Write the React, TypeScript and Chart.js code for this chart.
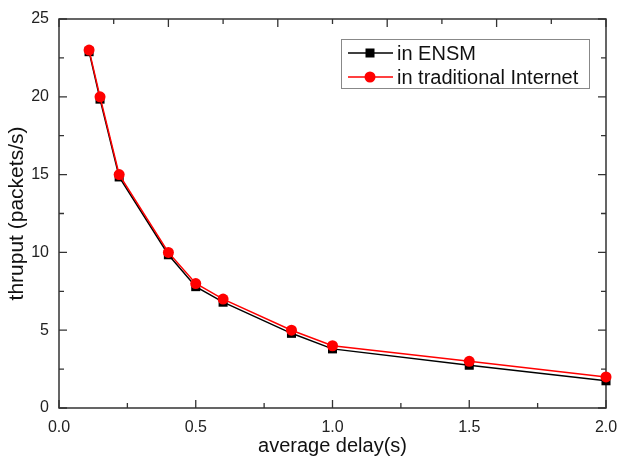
import React, { useEffect, useRef } from "react";
import { Chart, registerables } from "chart.js";

Chart.register(...registerables);

const delays = [0.11, 0.15, 0.22, 0.4, 0.5, 0.6, 0.85, 1.0, 1.5, 2.0];
const ensmThruput = [22.9, 19.85, 14.85, 9.85, 7.8, 6.8, 4.8, 3.8, 2.75, 1.75];
const tradThruput = [23, 20, 15, 10, 8, 7, 5, 4, 3, 2];
const seriesNames = ["in ENSM", "in traditional Internet"];
const xTitle = "average delay(s)";
const yTitle = "thruput (packets/s)";

const FONT = "'Liberation Sans', Arial, sans-serif";

const framePlugin = {
  id: "frame",
  beforeDatasetsDraw(chart: any) {
    const { ctx, chartArea } = chart;
    const { left, right, top, bottom } = chartArea;
    const xs = chart.scales.x;
    const ys = chart.scales.y;
    ctx.save();
    ctx.strokeStyle = "#333";
    ctx.lineWidth = 1.5;
    ctx.beginPath();
    ctx.rect(left, top, right - left, bottom - top);
    ctx.stroke();
    ctx.lineWidth = 1.3;
    ctx.beginPath();
    for (let i = 0; i <= 8; i++) {
      const px = xs.getPixelForValue(i * 0.25);
      const len = i % 2 === 0 ? 8 : 5;
      ctx.moveTo(px, bottom);
      ctx.lineTo(px, bottom - len);
    }
    for (let i = 0; i <= 10; i++) {
      const px = xs.getPixelForValue(i * 0.2);
      const len = i % 2 === 0 ? 8 : 5;
      ctx.moveTo(px, top);
      ctx.lineTo(px, top + len);
    }
    for (let i = 0; i <= 10; i++) {
      const py = ys.getPixelForValue(i * 2.5);
      const len = i % 2 === 0 ? 8 : 5;
      ctx.moveTo(left, py);
      ctx.lineTo(left + len, py);
      ctx.moveTo(right, py);
      ctx.lineTo(right - len, py);
    }
    ctx.stroke();
    ctx.restore();
  },
  afterDraw(chart: any) {
    const { ctx } = chart;
    ctx.save();
    const bx = 341, by = 39, bw = 248, bh = 49;
    ctx.fillStyle = "#fff";
    ctx.fillRect(bx, by, bw, bh);
    ctx.strokeStyle = "#888";
    ctx.lineWidth = 1;
    ctx.strokeRect(bx + 0.5, by + 0.5, bw, bh);
    const rows = [
      { y: 53, color: "#000", style: "rect" },
      { y: 77, color: "#ff0000", style: "circle" },
    ];
    rows.forEach((r, i) => {
      ctx.strokeStyle = r.color;
      ctx.lineWidth = 1.3;
      ctx.beginPath();
      ctx.moveTo(348, r.y);
      ctx.lineTo(393, r.y);
      ctx.stroke();
      ctx.fillStyle = r.color;
      if (r.style === "rect") {
        ctx.fillRect(370 - 4.5, r.y - 4.5, 9, 9);
      } else {
        ctx.beginPath();
        ctx.arc(370, r.y, 5.5, 0, Math.PI * 2);
        ctx.fill();
      }
      ctx.fillStyle = "#111";
      ctx.font = `20px ${FONT}`;
      ctx.textBaseline = "middle";
      ctx.textAlign = "left";
      ctx.fillText(seriesNames[i], 397, r.y + 1);
    });
    ctx.restore();
  },
};

export default function App() {
  const ref = useRef<HTMLCanvasElement>(null);
  useEffect(() => {
    if (!ref.current) return;
    const chart = new Chart(ref.current, {
      type: "line",
      data: {
        datasets: [
          {
            label: seriesNames[0],
            data: delays.map((d, i) => ({ x: d, y: ensmThruput[i] })),
            borderColor: "#000",
            backgroundColor: "#000",
            borderWidth: 1.5,
            pointStyle: "rect",
            pointRadius: 6.4,
            pointBorderWidth: 0,
            tension: 0,
            clip: false,
            order: 2,
          },
          {
            label: seriesNames[1],
            data: delays.map((d, i) => ({ x: d, y: tradThruput[i] })),
            borderColor: "#ff0000",
            backgroundColor: "#ff0000",
            borderWidth: 1.5,
            pointStyle: "circle",
            pointRadius: 5.5,
            pointBorderWidth: 0,
            tension: 0,
            clip: false,
            order: 1,
          },
        ],
      },
      options: {
        animation: false,
        responsive: false,
        devicePixelRatio: 1,
        layout: { padding: { top: 19, right: 12, left: 0, bottom: 0 } },
        plugins: {
          legend: { display: false },
          tooltip: { enabled: false },
        },
        scales: {
          x: {
            type: "linear",
            min: 0,
            max: 2,
            grid: { display: false, drawTicks: false },
            border: { display: false },
            ticks: {
              stepSize: 0.5,
              callback: (v: any) => Number(v).toFixed(1),
              font: { family: FONT, size: 16 },
              color: "#222",
              padding: 10,
              maxRotation: 0,
            },
            title: {
              display: true,
              text: xTitle,
              font: { family: FONT, size: 20 },
              color: "#111",
              padding: { top: 0, bottom: 0 },
            },
            afterFit: (s: any) => {
              s.height = 50;
              s.paddingLeft = 0;
              s.paddingRight = 0;
            },
          },
          y: {
            type: "linear",
            min: 0,
            max: 25,
            grid: { display: false, drawTicks: false },
            border: { display: false },
            ticks: {
              stepSize: 5,
              font: { family: FONT, size: 16 },
              color: "#222",
              padding: 10,
            },
            title: {
              display: true,
              text: yTitle,
              font: { family: FONT, size: 21 },
              color: "#111",
              padding: { top: 5, bottom: 0 },
            },
            afterFit: (s: any) => {
              s.width = 59;
              s.paddingTop = 0;
              s.paddingBottom = 0;
            },
          },
        },
      },
      plugins: [framePlugin],
    } as any);
    return () => chart.destroy();
  }, []);
  return (
    <div style={{ position: "absolute", left: 0, top: 0, width: 618, height: 458, background: "#fff" }}>
      <canvas ref={ref} width={618} height={458} />
    </div>
  );
}
